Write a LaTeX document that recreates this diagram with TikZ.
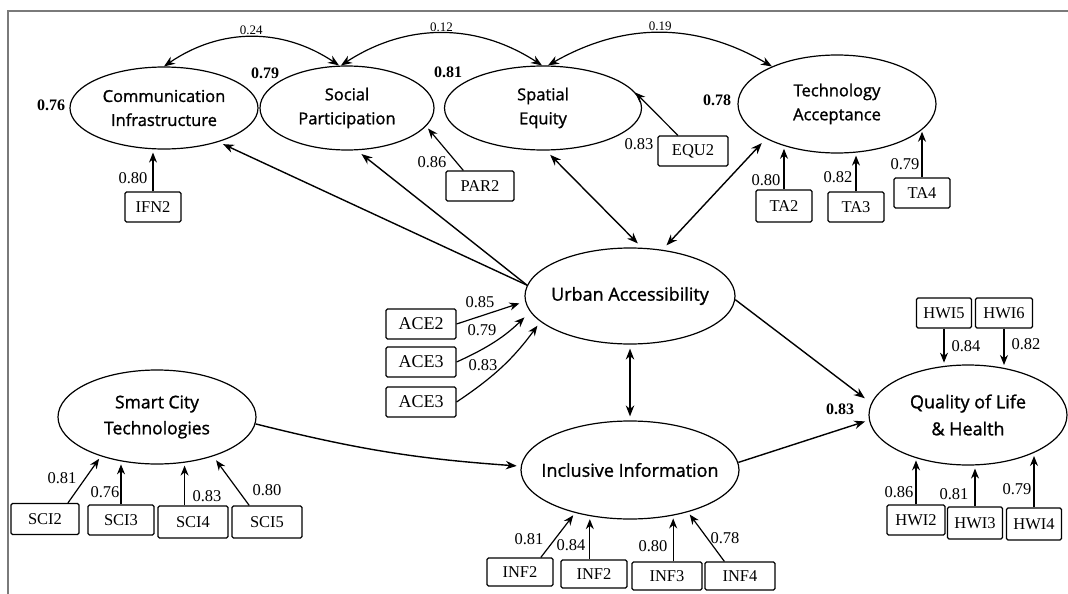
\documentclass[tikz,border=0pt]{standalone}
\usepackage{fontspec}
\setmainfont{Liberation Serif}
\newfontfamily\latfont[FakeBold=1.2]{Open Sans}
\usetikzlibrary{arrows.meta,shapes.geometric}
\definecolor{frame}{HTML}{7A7A7A}

\tikzset{
  latent/.style={ellipse, draw, line width=1.2pt, inner xsep=-20pt, inner ysep=0pt, align=center, font=\latfont\fontsize{16.5}{24}\selectfont},
  biglatent/.style={latent, font=\latfont\fontsize{18}{27}\selectfont},
  obs/.style={draw, line width=1.1pt, rounded corners=1.5pt, minimum width=68pt, minimum height=30pt, inner sep=0pt, font=\fontsize{16.5}{18}\selectfont},
  ldg/.style={inner sep=0pt, font=\fontsize{16.5}{18}\selectfont},
  rsq/.style={inner sep=0pt, font=\bfseries\fontsize{16}{18}\selectfont},
  cov/.style={inner sep=1.5pt, font=\fontsize{13}{15}\selectfont},
  ind/.style={-{Stealth[length=10pt,width=8pt]}, line width=1.2pt, shorten >=3pt},
  link/.style={-{Stealth[length=11pt,width=8.5pt]}, line width=1.4pt},
  biv/.style={{Stealth[length=11pt,width=8.5pt]}-{Stealth[length=11pt,width=8.5pt]}, line width=1.4pt},
}

\begin{document}
\begin{tikzpicture}[x=1pt,y=-1pt]
  \useasboundingbox (0,0) rectangle (1068,594);
  % frame
  \draw[frame, line width=1.5pt] (8,594) -- (8,11) -- (1068,11);

  % latent constructs
  \node[latent, minimum width=188pt, minimum height=82pt] (ci) at (164,108) {Communication\\Infrastructure};
  \node[latent, minimum width=174pt, minimum height=84pt] (sp) at (347,108) {Social\\Participation};
  \node[latent, minimum width=197pt, minimum height=84pt] (se) at (543,108) {Spatial\\Equity};
  \node[latent, minimum width=198pt, minimum height=98pt] (ta) at (837,104) {Technology\\Acceptance};
  \node[biglatent, minimum width=210pt, minimum height=96pt] (ua) at (630,296) {Urban Accessibility};
  \node[biglatent, minimum width=218pt, minimum height=98pt] (ii) at (630,470) {Inclusive Information};
  \node[latent, font=\latfont\fontsize{17.5}{26}\selectfont, minimum width=198pt, minimum height=94pt] (sct) at (157,417) {Smart City\\Technologies};
  \node[biglatent, minimum width=198pt, minimum height=100pt] (qlh) at (968,415) {Quality of Life\\\& Health};

  % indicators
  \node[obs, minimum width=56pt] (ifn2) at (153,207) {IFN2};
  \node[obs] (par2) at (480,186) {PAR2};
  \node[obs, minimum width=70pt] (equ2) at (693,151) {EQU2};
  \node[obs, minimum width=56pt, minimum height=32pt] (ta2) at (784,206) {TA2};
  \node[obs, minimum width=56pt] (ta3) at (856,207) {TA3};
  \node[obs, minimum width=56pt] (ta4) at (922,193) {TA4};
  \node[obs, minimum width=70pt, font=\fontsize{18}{20}\selectfont] (ace2) at (421,324) {ACE2};
  \node[obs, minimum width=70pt, font=\fontsize{18}{20}\selectfont] (ace3a) at (421,362) {ACE3};
  \node[obs, minimum width=70pt, font=\fontsize{18}{20}\selectfont] (ace3b) at (421,402) {ACE3};
  \node[obs, minimum height=31pt] (sci2) at (45,519) {SCI2};
  \node[obs, minimum width=66pt] (sci3) at (121,520) {SCI3};
  \node[obs, minimum width=70pt, minimum height=32pt] (sci4) at (193,522) {SCI4};
  \node[obs, minimum width=70pt, minimum height=32pt] (sci5) at (267,522) {SCI5};
  \node[obs, minimum width=66pt, minimum height=28pt] (inf2a) at (520,572) {INF2};
  \node[obs, minimum width=66pt, minimum height=28pt] (inf2b) at (594,574) {INF2};
  \node[obs, minimum width=70pt, minimum height=28pt] (inf3) at (667,576) {INF3};
  \node[obs, minimum width=70pt, minimum height=28pt] (inf4) at (740,576) {INF4};
  \node[obs, minimum width=55pt] (hwi5) at (944,313) {HWI5};
  \node[obs, minimum width=57pt] (hwi6) at (1004,313) {HWI6};
  \node[obs, minimum width=58pt] (hwi2) at (916,520) {HWI2};
  \node[obs, minimum width=55pt, minimum height=32pt] (hwi3) at (975,523) {HWI3};
  \node[obs, minimum width=55pt, minimum height=32pt] (hwi4) at (1034,524) {HWI4};

  % loadings
  \draw[ind] (ifn2.north) -- (ifn2.north |- ci.south);
  \draw[ind] (par2.137) -- (sp.-13);
  \draw[ind] (equ2.134) -- (se.11);
  \draw[ind] (ta2.north) -- (ta2.north |- ta.-142);
  \draw[ind] (ta3.north) -- (ta3.north |- ta.-68);
  \draw[ind] (ta4.north) -- (ta4.north |- ta.-16);
  \draw[ind, shorten >=6pt] (ace2.east) -- (ua.-177);
  \draw[ind, shorten >=8pt] (ace3a.east) to[bend right=10] (ua.-171);
  \draw[ind, shorten >=5pt] (ace3b.east) to[bend right=10] (ua.-164);
  \draw[ind] (sci2.35) -- (sct.-145);
  \draw[ind] (sci3.north) -- (sci3.north |- sct.-129);
  \draw[ind] (sci4.117) -- (sci4.117 |- sct.-58);
  \draw[ind, shorten >=5pt] (sci5.137) -- (sct.-35);
  \draw[ind] (inf2a.35) -- (ii.-142);
  \draw[ind] (inf2b.106) -- (inf2b.106 |- ii.-131);
  \draw[ind] (inf3.67) -- (inf3.67 |- ii.-46);
  \draw[ind] (inf4.137) -- (ii.-36);
  \draw[ind] (hwi5.south) -- (hwi5.south |- qlh.114);
  \draw[ind] (hwi6.south) -- (hwi6.south |- qlh.52);
  \draw[ind] (hwi2.north) -- (hwi2.north |- qlh.-142);
  \draw[ind] (hwi3.north) -- (hwi3.north |- qlh.-86);
  \draw[ind] (hwi4.north) -- (hwi4.north |- qlh.-30);

  % structural paths
  \draw[link, shorten >=5pt] (ua.174) -- (ci.-32);
  \draw[link, shorten >=6pt] (ua.174) -- (sp.-77);
  \draw[biv, shorten <=6pt, shorten >=6pt] (se.-86) -- (ua.76);
  \draw[biv, shorten <=6pt, shorten >=6pt] (ua.55) -- (ta.-154);
  \draw[biv, shorten <=4pt, shorten >=4pt] (ua.south) -- (ii.north);
  \draw[link, shorten >=8pt] (ua.-2) -- (qlh.173);
  \draw[link, shorten >=4pt] (sct.-4) to[bend right=5] (ii.178);
  \draw[link, shorten >=4pt] (ii.4) -- (qlh.-177);

  % covariances
  \draw[biv, line width=1.2pt] (ci.north) to[bend left=34] node[cov, above] {0.24} ([xshift=-8pt]sp.north);
  \draw[biv, line width=1.2pt] ([xshift=-6pt]sp.north) to[bend left=33] node[cov, above] {0.12} ([xshift=-1pt]se.north);
  \draw[biv, line width=1.2pt] ([xshift=5pt]se.north) to[bend left=30] node[cov, above] {0.19} (ta.150);

  % loading values
  \node[ldg] (l-ifn2) at (133,178) {0.80};
  \node[ldg] (l-par2) at (432,162) {0.86};
  \node[ldg] (l-equ2) at (639,144) {0.83};
  \node[ldg] (l-ta2) at (766,180) {0.80};
  \node[ldg] (l-ta3) at (838,177) {0.82};
  \node[ldg] (l-ta4) at (905,164) {0.79};
  \node[ldg] (l-ace2) at (480,302) {0.85};
  \node[ldg] (l-ace3a) at (482,330) {0.79};
  \node[ldg] (l-ace3b) at (483,365) {0.83};
  \node[ldg] (l-sci2) at (62,478) {0.81};
  \node[ldg] (l-sci3) at (105,492) {0.76};
  \node[ldg] (l-sci4) at (207,496) {0.83};
  \node[ldg] (l-sci5) at (267,490) {0.80};
  \node[ldg] (l-inf2a) at (529,539) {0.81};
  \node[ldg] (l-inf2b) at (571,545) {0.84};
  \node[ldg] (l-inf3) at (653,546) {0.80};
  \node[ldg] (l-inf4) at (725,538) {0.78};
  \node[ldg] (l-hwi5) at (966,346) {0.84};
  \node[ldg] (l-hwi6) at (1026,344) {0.82};
  \node[ldg] (l-hwi2) at (899,492) {0.86};
  \node[ldg] (l-hwi3) at (954,494) {0.81};
  \node[ldg] (l-hwi4) at (1017,489) {0.79};

  % R squared
  \node[rsq] (r-ci) at (51,105) {0.76};
  \node[rsq] (r-sp) at (265,73) {0.79};
  \node[rsq] (r-se) at (448,72) {0.81};
  \node[rsq] (r-ta) at (717,100) {0.78};
  \node[rsq] (r-qlh) at (840,409) {0.83};
\end{tikzpicture}
\end{document}
